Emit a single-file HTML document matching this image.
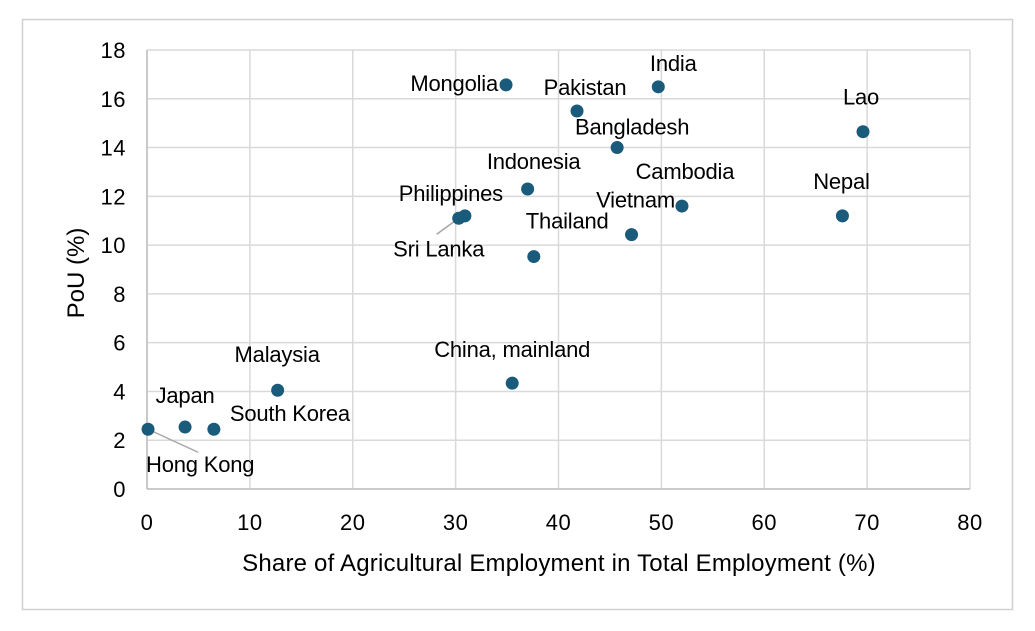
<!DOCTYPE html>
<html><head><meta charset="utf-8"><style>
body{margin:0;background:#fff;}
svg{display:block;font-family:"Liberation Sans",Arial,sans-serif;}
</style></head><body>
<svg id="chart" width="1035" height="631">
<rect x="22.5" y="19.5" width="990" height="590" fill="#fff" stroke="#d0d0d0" stroke-width="1.5"/>
<g id="grid"></g>
<g id="ticks"></g>
<g id="marks"></g>
<text x="559" y="571" text-anchor="middle" font-size="24" fill="#000" letter-spacing="0.2">Share of Agricultural Employment in Total Employment (%)</text>
<text transform="translate(84,273) rotate(-90)" text-anchor="middle" font-size="24" fill="#000">PoU (%)</text>
</svg>
<script>
const countries=["Mongolia","India","Pakistan","Lao","Bangladesh","Indonesia","Cambodia","Nepal","Philippines","Sri Lanka","Vietnam","Thailand","China, mainland","Malaysia","Japan","South Korea","Hong Kong"];
const agriShare=[34.9,49.7,41.8,69.6,45.7,37.0,52.0,67.6,30.9,30.3,47.1,37.6,35.5,12.7,3.7,6.5,0.1];
const pou=[16.57,16.49,15.5,14.65,14.0,12.3,11.6,11.2,11.2,11.1,10.43,9.53,4.34,4.05,2.54,2.45,2.45];
const xTicks=[0,10,20,30,40,50,60,70,80];
const yTicks=[0,2,4,6,8,10,12,14,16,18];
// label offsets (pixels) relative to point
const labelDx=[-8,15,8,-2,15,6,3,-1,-14,-20,4,-8,0,-0.5,0,16,-2];
const labelDy=[6,-16,-16,-27,-13,-20,-27,-27,-15,38,-27,-28,-26,-28,-24,-8,43];
const labelAnchor=["end","middle","middle","middle","middle","middle","middle","middle","middle","middle","middle","start","middle","middle","middle","start","start"];
const NS="http://www.w3.org/2000/svg";
const X0=147,X1=970,Y0=489,Y1=50;
const sx=v=>X0+(v-0)/(80-0)*(X1-X0);
const sy=v=>Y0-(v-0)/(18-0)*(Y0-Y1);
const grid=document.getElementById('grid'),ticks=document.getElementById('ticks'),marks=document.getElementById('marks');
function mk(tag,attrs,parent){const e=document.createElementNS(NS,tag);for(const k in attrs)e.setAttribute(k,attrs[k]);parent.appendChild(e);return e;}
yTicks.forEach(t=>{
  const l=mk('line',{x1:X0,x2:X1,y1:sy(t),y2:sy(t),stroke:'#d9d9d9','stroke-width':1.5},grid);
  
  
  const tx=mk('text',{x:126,y:sy(t)+8,'text-anchor':'end','font-size':22,'letter-spacing':'0.5',fill:'#000'},ticks);
  tx.textContent=t;
  
  
});
xTicks.forEach(t=>{
  const l=mk('line',{x1:sx(t),x2:sx(t),y1:Y1,y2:Y0,stroke:'#d9d9d9','stroke-width':1.5},grid);
  
  
  const tx=mk('text',{x:sx(t),y:530,'text-anchor':'middle','font-size':22,'letter-spacing':'0.5',fill:'#000'},ticks);
  tx.textContent=t;
  
  
});
const ax=mk('line',{x1:X0,x2:X0,y1:Y1,y2:Y0,stroke:'#bfbfbf','stroke-width':1.5},grid);


const bx=mk('line',{x1:X0,x2:X1,y1:Y0,y2:Y0,stroke:'#bfbfbf','stroke-width':1.5},grid);


const lead=[[9,-22,16],[16,50,23]];
lead.forEach(([i,dx,dy])=>{
  const px=sx(agriShare[i]),py=sy(pou[i]);
  const l=mk('line',{x1:px,y1:py,x2:px+dx,y2:py+dy,stroke:'#a6a6a6','stroke-width':1.5},marks);
  
  
});
countries.forEach((c,i)=>{
  const px=sx(agriShare[i]),py=sy(pou[i]);
  const p=mk('circle',{cx:px,cy:py,r:6.5,fill:'#1a5a7a'},marks);
  
  
  const t=mk('text',{x:px+labelDx[i],y:py+labelDy[i],'text-anchor':labelAnchor[i],'font-size':22,fill:'#000','letter-spacing':'-0.2'},marks);
  t.textContent=c;
  
  
});
</script>
</body></html>
